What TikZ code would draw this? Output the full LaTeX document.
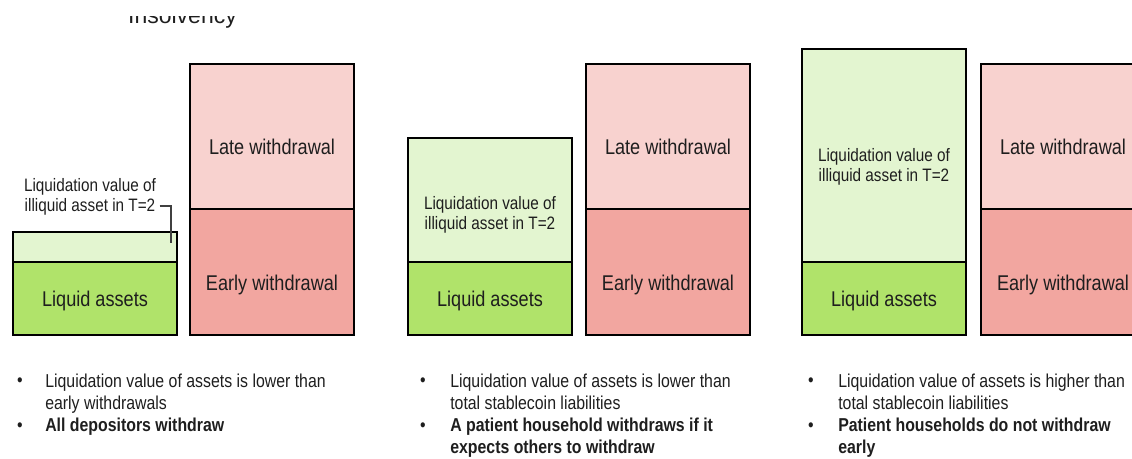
\documentclass[tikz,border=0pt]{standalone}
\usepackage{fontspec}
\setmainfont[FakeStretch=0.85]{Liberation Sans}
\newfontfamily\titlefont{Liberation Sans}
\usetikzlibrary{positioning}
\definecolor{lightgreen}{HTML}{E3F5D0}
\definecolor{liqgreen}{HTML}{B0E36A}
\definecolor{latepink}{HTML}{F8D2CF}
\definecolor{earlyred}{HTML}{F2A6A0}
\definecolor{inkgrey}{HTML}{1E1E1E}
\tikzstyle{block} = [draw=black,line width=2.2pt,inner sep=0pt,outer sep=0pt,minimum width=123pt]
\tikzstyle{boxtext} = [text=inkgrey,font=\fontsize{16}{18}\selectfont,inner sep=0pt,anchor=base]
\tikzstyle{smalltext} = [text=inkgrey,font=\fontsize{13.5}{15}\selectfont,align=center,inner sep=0pt]
\tikzstyle{bullettext} = [text=inkgrey,font=\fontsize{14}{16}\selectfont,align=left,inner sep=0pt,anchor=north west]
\tikzstyle{dot} = [text=inkgrey,font=\fontsize{14}{16}\selectfont,inner sep=0pt,anchor=base]
\tikzstyle{leader} = [draw=inkgrey!85,line width=0.9pt]

\begin{document}
\begin{tikzpicture}[x=0.75pt,y=-0.75pt]
  \clip (0,0) rectangle (1132,458);
  % title, cut off at the top
  \begin{scope}
    \clip (0,16) rectangle (1132,40);
    \node[text=inkgrey,font=\titlefont\fontsize{17.25}{20}\selectfont,anchor=base] (title) at (182.5,23.5) {Insolvency};
  \end{scope}

  % panel 1
  \node[block,fill=liqgreen,minimum height=54.75pt,anchor=south west] (liq1) at (13,335) {};
  \node[block,fill=lightgreen,minimum height=22.5pt,above=0pt of liq1] (illiq1) {};
  \node[block,fill=earlyred,minimum height=94.5pt,anchor=south west] (early1) at (190,335) {};
  \node[block,fill=latepink,minimum height=108.75pt,above=0pt of early1] (late1) {};
  \node[boxtext] (liq1t) at ([yshift=-6pt]liq1.center) {Liquid assets};
  \node[boxtext] (early1t) at ([yshift=-14pt]early1.center) {Early withdrawal};
  \node[boxtext] (late1t) at ([yshift=-13.5pt]late1.center) {Late withdrawal};
  \node[smalltext] (illiq1t) at (90,197) {Liquidation value of\\illiquid asset in T=2};
  \coordinate (illiq1tip) at (171,243);
  \draw[leader] ([xshift=2.5pt,yshift=-6.75pt]illiq1t.east) -| (illiq1tip);

  % panel 2
  \node[block,fill=liqgreen,minimum height=54.75pt,anchor=south west] (liq2) at (408,335) {};
  \node[block,fill=lightgreen,minimum height=93pt,above=0pt of liq2] (illiq2) {};
  \node[block,fill=earlyred,minimum height=94.5pt,anchor=south west] (early2) at (586,335) {};
  \node[block,fill=latepink,minimum height=108.75pt,above=0pt of early2] (late2) {};
  \node[boxtext] (liq2t) at ([yshift=-6pt]liq2.center) {Liquid assets};
  \node[boxtext] (early2t) at ([yshift=-14pt]early2.center) {Early withdrawal};
  \node[boxtext] (late2t) at ([yshift=-13.5pt]late2.center) {Late withdrawal};
  \node[smalltext] (illiq2t) at ([yshift=-11pt]illiq2.center) {Liquidation value of\\illiquid asset in T=2};

  % panel 3
  \node[block,fill=liqgreen,minimum height=54.75pt,anchor=south west] (liq3) at (802,335) {};
  \node[block,fill=lightgreen,minimum height=159.75pt,above=0pt of liq3] (illiq3) {};
  \node[block,fill=earlyred,minimum height=94.5pt,anchor=south west] (early3) at (981,335) {};
  \node[block,fill=latepink,minimum height=108.75pt,above=0pt of early3] (late3) {};
  \node[boxtext] (liq3t) at ([yshift=-6pt]liq3.center) {Liquid assets};
  \node[boxtext] (early3t) at ([yshift=-14pt]early3.center) {Early withdrawal};
  \node[boxtext] (late3t) at ([yshift=-13.5pt]late3.center) {Late withdrawal};
  \node[smalltext] (illiq3t) at ([yshift=-8.5pt]illiq3.center) {Liquidation value of\\illiquid asset in T=2};

  % notes under the panels
  \node[dot] (dot1a) at (20,386) {\textbullet};
  \node[bullettext] (note1a) at (45,374) {Liquidation value of assets is lower than\\early withdrawals};
  \node[dot] (dot1b) at (20,431) {\textbullet};
  \node[bullettext,font=\fontsize{14}{16}\selectfont\bfseries] (note1b) at (45,418) {All depositors withdraw};

  \node[dot] (dot2a) at (423,386) {\textbullet};
  \node[bullettext] (note2a) at (450,374) {Liquidation value of assets is lower than\\total stablecoin liabilities};
  \node[dot] (dot2b) at (423,431) {\textbullet};
  \node[bullettext,font=\fontsize{14}{16}\selectfont\bfseries] (note2b) at (450,418) {A patient household withdraws if it\\expects others to withdraw};

  \node[dot] (dot3a) at (811,386) {\textbullet};
  \node[bullettext] (note3a) at (838,374) {Liquidation value of assets is higher than\\total stablecoin liabilities};
  \node[dot] (dot3b) at (811,431) {\textbullet};
  \node[bullettext,font=\fontsize{14}{16}\selectfont\bfseries] (note3b) at (838,418) {Patient households do not withdraw\\early};
\end{tikzpicture}
\end{document}
